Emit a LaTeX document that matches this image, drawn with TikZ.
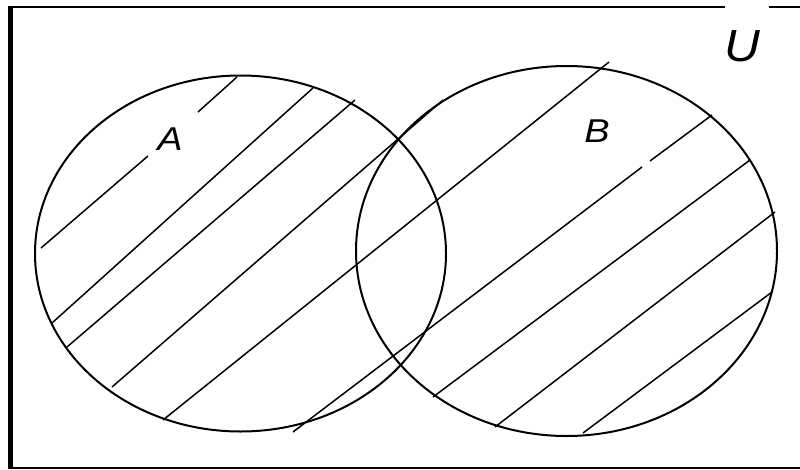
\documentclass[tikz,border=0pt]{standalone}
\usepackage{fontspec}
\usepackage{graphicx}
\setmainfont{Liberation Sans}
\begin{document}
\begin{tikzpicture}[x=1pt,y=-1pt,
  frameline/.style={draw=black, line width=2pt, line cap=butt},
  setcirc/.style={draw=black, line width=2pt},
  hatchline/.style={draw=black, line width=1.5pt},
  setlbl/.style={inner sep=0pt, anchor=base, font=\itshape\fontsize{33}{33}\selectfont},
  unilbl/.style={inner sep=0pt, anchor=base, font=\itshape\fontsize{45}{45}\selectfont}]
\useasboundingbox (0,0) rectangle (800,469);
% frame (open on the right)
\draw[frameline, line width=5pt] (10.8,5.7) -- (10.8,469);
\draw[frameline] (8.3,6.7) -- (725,6.7);
\draw[frameline] (769,6.7) -- (800,6.7);
\draw[frameline] (8.3,468.3) -- (800,468.3);
% sets
\coordinate (cA) at (240.5,253.5);
\coordinate (cB) at (566.5,251);
\draw[setcirc] (cA) ellipse [x radius=205.5, y radius=178];
\draw[setcirc] (cB) ellipse [x radius=210.5, y radius=185];
% hatching
\draw[hatchline] (41,248) -- (148,156);
\draw[hatchline] (198,112) -- (237,77);
\draw[hatchline] (52,323) -- (313,88);
\draw[hatchline] (67,347) -- (355,100);
\draw[hatchline] (112,387) -- (443,100);
\draw[hatchline] (163,420) -- (609,62);
\draw[hatchline] (293,432) -- (642,167);
\draw[hatchline] (650,161) -- (712,115);
\draw[hatchline] (433,397) -- (750,160);
\draw[hatchline] (495,427) -- (775,212);
\draw[hatchline] (583,433) -- (772,292);
% labels
\node[setlbl] (labA) at (170,150) {\scalebox{1.15}[1]{A}};
\node[setlbl] (labB) at (597,142) {\scalebox{1.15}[1]{B}};
\node[unilbl] (labU) at (742,61) {\scalebox{1.1}[1]{U}};
\end{tikzpicture}
\end{document}
